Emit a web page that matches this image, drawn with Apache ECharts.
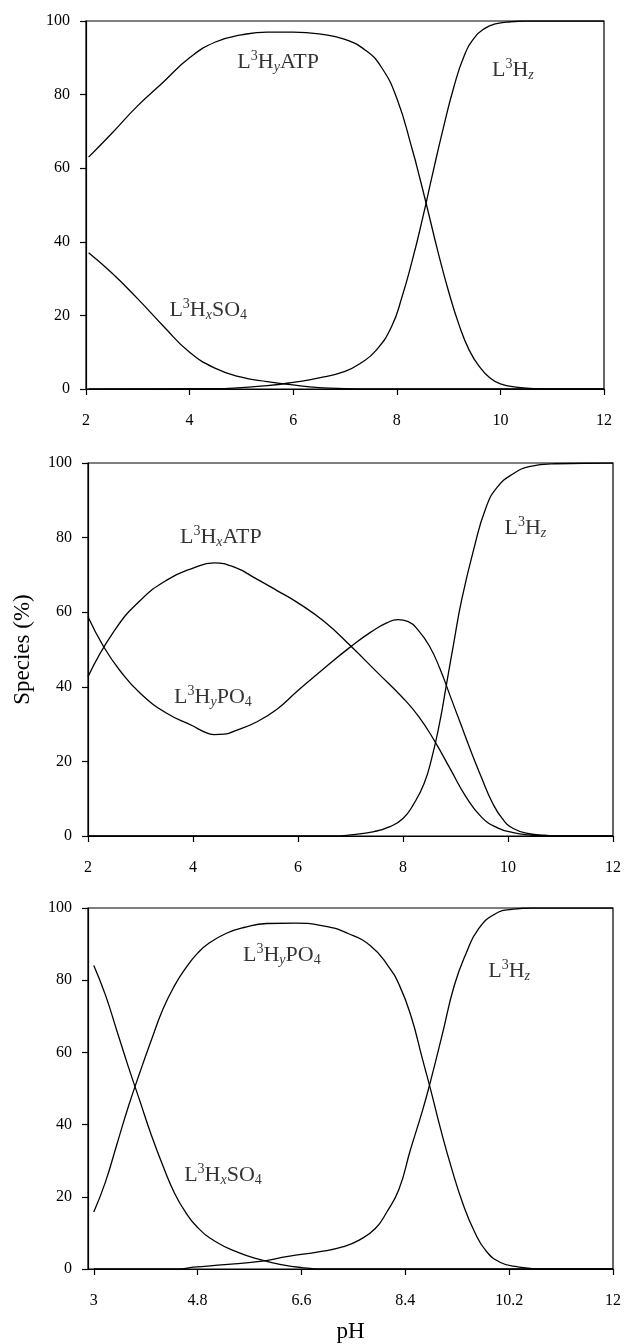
<!DOCTYPE html>
<html><head><meta charset="utf-8">
<script src="https://cdn.jsdelivr.net/npm/echarts@6/dist/echarts.min.js"></script>
<style>html,body{margin:0;padding:0;background:#fff}#c{width:624px;height:1344px}</style>
</head><body><div id="c"></div>
<script>
const FONT = '"Liberation Serif","Times New Roman",serif';

// tick values
const yTicks = [0, 20, 40, 60, 80, 100];
const xTicksTop = [2, 4, 6, 8, 10, 12];
const xTicksMid = [2, 4, 6, 8, 10, 12];
const xTicksBottom = [3, 4.8, 6.6, 8.4, 10.2, 12];

// Panel 1 (top): L3HyATP, L3HxSO4, L3Hz   [pH, %]
const p1_HyATP = [[2.05,63],[2.5,69.5],[3,77],[3.5,83.5],[4,90],[4.5,94.3],[5,96.2],[5.5,97],[6,97],[6.5,96.5],[7,95],[7.4,92],[7.7,87.5],[8,79],[8.3,65],[8.45,57],[8.6,48.5],[8.8,37],[9,26.5],[9.2,17.5],[9.4,10.5],[9.6,6],[9.8,3],[10,1.4],[10.3,0.5],[10.7,0.1],[11,0],[12,0]];
const p1_HxSO4 = [[2.05,37],[2.5,31.5],[3,24.5],[3.5,17],[4,10],[4.5,5.6],[5,3.2],[5.5,2],[6,1.1],[6.5,0.4],[7,0.1],[7.5,0],[12,0]];
const p1_Hz = [[2.05,0],[4.5,0.1],[5,0.4],[5.5,0.9],[6,1.8],[6.5,3],[7,4.8],[7.3,7],[7.6,10.5],[7.9,17],[8.1,25],[8.3,35],[8.5,46.5],[8.7,59],[8.9,71],[9.1,82],[9.3,90.5],[9.5,95.5],[9.7,98],[9.9,99.2],[10.2,99.8],[10.5,100],[12,100]];

// Panel 2 (middle): L3HxATP, L3HyPO4, L3Hz
const p2_HxATP = [[2,42.7],[2.5,55],[3,63.2],[3.5,68.6],[4,71.8],[4.4,73.2],[4.8,72],[5.2,69],[5.6,65.8],[6,62.5],[6.5,57.5],[7,51],[7.5,44],[8,37],[8.3,32],[8.6,25.5],[8.9,18],[9.2,10.5],[9.5,5],[9.8,2.2],[10.1,0.9],[10.4,0.3],[10.8,0],[12,0]];
const p2_HyPO4 = [[2,58.8],[2.3,50.7],[2.6,44.5],[3,38.2],[3.5,32.9],[4,29.5],[4.2,28],[4.4,27.2],[4.6,27.3],[4.8,28.2],[5.2,30.5],[5.6,34],[6,39],[6.5,45],[7,50.7],[7.4,54.8],[7.7,57.2],[7.9,58],[8.1,57.5],[8.3,55],[8.5,51],[8.7,45],[8.9,37.5],[9.1,30],[9.3,22.5],[9.5,15.5],[9.7,9],[9.9,4.5],[10.1,2],[10.4,0.6],[10.7,0.2],[11,0],[12,0]];
const p2_Hz = [[2,0],[6.7,0],[7,0.3],[7.45,1.2],[7.75,2.5],[8,4.7],[8.2,8.5],[8.4,14],[8.55,21],[8.7,30.5],[8.82,40],[8.97,52],[9.12,63.5],[9.35,77],[9.58,88],[9.8,93.6],[10.1,97.1],[10.4,99],[10.9,99.8],[12,100]];

// Panel 3 (bottom): L3HyPO4, L3HxSO4, L3Hz
const p3_HyPO4 = [[3,15.8],[3.2,24],[3.4,34.5],[3.6,45],[3.8,54.5],[4,63.5],[4.2,72],[4.4,78.5],[4.6,83.5],[4.8,87.5],[5,90.3],[5.3,93],[5.6,94.6],[6,95.7],[6.5,95.8],[7,95],[7.4,93],[7.8,89.5],[8.1,84],[8.3,78.5],[8.5,70],[8.7,58],[8.85,49],[9,39.5],[9.2,28],[9.4,18],[9.6,10.3],[9.8,5],[10.05,1.8],[10.35,0.6],[10.8,0],[12,0]];
const p3_HxSO4 = [[3,84.1],[3.2,76],[3.4,66],[3.6,56],[3.8,46.5],[4,37],[4.2,28.5],[4.4,21],[4.6,15.5],[4.8,11.5],[5.1,7.7],[5.5,4.6],[5.9,2.5],[6.25,1.2],[6.6,0.4],[7,0],[12,0]];
const p3_Hz = [[3,0],[4.5,0],[4.72,0.5],[5.27,1.2],[5.88,2.1],[6.37,3.5],[6.92,4.8],[7.33,6.2],[7.6,8],[7.88,11.2],[8.08,15.8],[8.29,22.1],[8.49,33.1],[8.7,44],[8.84,52.2],[9.04,64.9],[9.25,78.6],[9.46,87.7],[9.66,94],[9.94,98.2],[10.28,99.7],[10.6,100],[12,100]];

// curve annotations: panel, [pH, %] anchor, rich-text label
const curveLabels = [
  {panel:0, at:[5.71,88.8], text:'{n|L}{sup|3}{n|H}{sub|y}{n|ATP}'},
  {panel:0, at:[10.24,86.6], text:'{n|L}{sup|3}{n|H}{sub|z}'},
  {panel:0, at:[4.36,21.4], text:'{n|L}{sup|3}{n|H}{sub|x}{n|SO}{num|4}'},
  {panel:1, at:[4.53,80.1], text:'{n|L}{sup|3}{n|H}{sub|x}{n|ATP}'},
  {panel:1, at:[4.38,37.2], text:'{n|L}{sup|3}{n|H}{sub|y}{n|PO}{num|4}'},
  {panel:1, at:[10.33,82.5], text:'{n|L}{sup|3}{n|H}{sub|z}'},
  {panel:2, at:[6.26,86.8], text:'{n|L}{sup|3}{n|H}{sub|y}{n|PO}{num|4}'},
  {panel:2, at:[10.2,82.5], text:'{n|L}{sup|3}{n|H}{sub|z}'},
  {panel:2, at:[5.24,26], text:'{n|L}{sup|3}{n|H}{sub|x}{n|SO}{num|4}'}
];

const panelSeries = [
  [p1_HyATP, p1_HxSO4, p1_Hz],
  [p2_HxATP, p2_HyPO4, p2_Hz],
  [p3_HyPO4, p3_HxSO4, p3_Hz]
];

const grids = [
  {left:86, top:21, width:518, height:368},
  {left:88, top:463, width:527, height:373},
  {left:88, top:908, width:525, height:365}
];
const xRanges = [[2,12],[2,12],[2.9,12]];
const xTickSets = [xTicksTop, xTicksMid, xTicksBottom];

const rich = {
  n:{fontFamily:FONT, fontSize:22, color:'#000'},
  sup:{fontFamily:FONT, fontSize:14, color:'#000', padding:[0,0,12,0]},
  sub:{fontFamily:FONT, fontSize:14, color:'#000', fontStyle:'italic', padding:[10,0,0,0]},
  num:{fontFamily:FONT, fontSize:14, color:'#000', padding:[10,0,0,0]}
};

const xAxes = grids.map((g,i)=>({
  type:'value', gridIndex:i, min:xRanges[i][0], max:xRanges[i][1],
  splitLine:{show:false},
  axisLine:{show:true, onZero:false, lineStyle:{color:'#000', width:1.2}},
  axisTick:{show:true, inside:false, length:6, customValues:xTickSets[i], lineStyle:{color:'#000', width:1.2}},
  axisLabel:{show:true, customValues:xTickSets[i], margin:24, fontFamily:FONT, fontSize:16, color:'#000'},
  name: i===2 ? 'pH' : '', nameLocation:'middle', nameGap:51,
  nameTextStyle:{fontFamily:FONT, fontSize:23, color:'#000'}
}));
const yAxes = grids.map((g,i)=>({
  type:'value', gridIndex:i, min:0, max:100, interval:20,
  splitLine:{show:false},
  axisLine:{show:true, lineStyle:{color:'#000', width:1.2}},
  axisTick:{show:true, inside:false, length:6, lineStyle:{color:'#000', width:1.2}},
  axisLabel:{margin:16, fontFamily:FONT, fontSize:16, color:'#000'},
  name: i===1 ? 'Species (%)' : '', nameLocation:'middle', nameGap:54,
  nameTextStyle:{fontFamily:FONT, fontSize:23, color:'#000'}
}));

const series = [];
panelSeries.forEach((list,i)=>{
  list.forEach(d=>{
    series.push({type:'line', xAxisIndex:i, yAxisIndex:i, data:d, smooth:0.5,
      showSymbol:false, symbol:'none', lineStyle:{color:'#000', width:1.3}, silent:true, z:3});
  });
});
curveLabels.forEach(l=>{
  series.push({type:'scatter', xAxisIndex:l.panel, yAxisIndex:l.panel, symbolSize:0, silent:true,
    data:[l.at], label:{show:true, position:'inside', formatter:l.text, rich:rich}});
});

const chart = echarts.init(document.getElementById('c'), null, {renderer:'canvas'});
chart.setOption({
  backgroundColor:'#fff',
  animation:false,
  grid: grids.map(g=>Object.assign({show:true, borderColor:'#000', borderWidth:1.2, backgroundColor:'transparent'}, g)),
  xAxis: xAxes,
  yAxis: yAxes,
  series: series
});
</script></body></html>
